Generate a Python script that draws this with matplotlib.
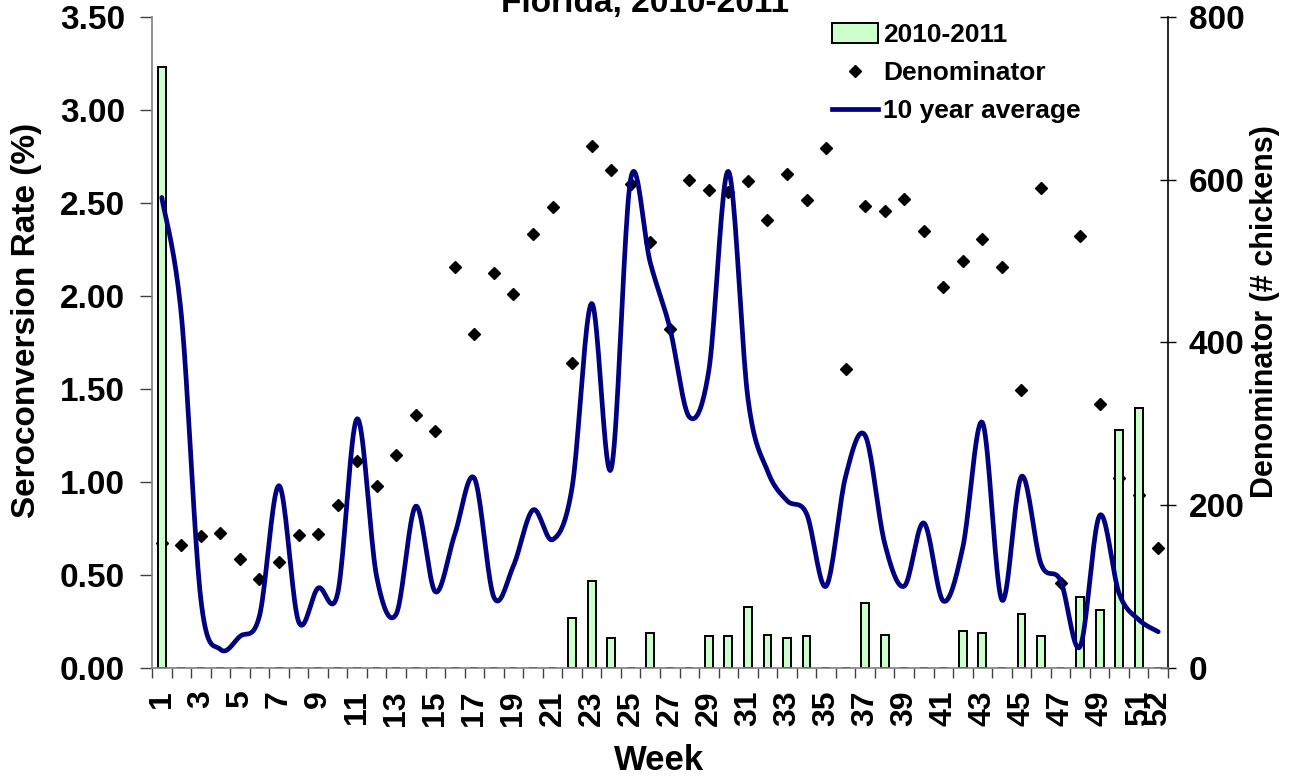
import numpy as np
import matplotlib
matplotlib.use("Agg")
import matplotlib.pyplot as plt
from matplotlib.lines import Line2D
from matplotlib.patches import Patch

weeks = list(range(1, 53))
rate_2010_2011 = [3.23, 0, 0, 0, 0, 0, 0, 0, 0, 0,
                  0, 0, 0, 0, 0, 0, 0, 0, 0, 0,
                  0, 0.27, 0.47, 0.16, 0, 0.19, 0, 0, 0.17, 0.17,
                  0.33, 0.18, 0.16, 0.17, 0, 0, 0.35, 0.18, 0, 0,
                  0, 0.20, 0.19, 0, 0.29, 0.17, 0, 0.38, 0.31, 1.28,
                  1.40, 0]
denominator = [154, 151, 162, 166, 134, 109, 130, 163, 165, 200,
               254, 224, 262, 311, 291, 493, 410, 485, 460, 533,
               566, 375, 641, 612, 595, 523, 417, 600, 587, 585,
               598, 551, 607, 575, 639, 367, 568, 561, 576, 537,
               468, 500, 527, 493, 342, 590, 105, 531, 324, 233,
               213, 148]
avg_10yr = [2.53, 1.90, 0.37, 0.10, 0.17, 0.28, 0.98, 0.25, 0.43, 0.40,
            1.34, 0.49, 0.29, 0.87, 0.41, 0.72, 1.02, 0.38, 0.55, 0.85,
            0.69, 0.97, 1.96, 1.07, 2.63, 2.18, 1.83, 1.35, 1.60, 2.67,
            1.45, 1.06, 0.90, 0.83, 0.44, 1.03, 1.25, 0.67, 0.44, 0.78,
            0.36, 0.65, 1.32, 0.365, 1.03, 0.56, 0.47, 0.115, 0.82, 0.40,
            0.26, 0.195]
xtick_labels = [str(w) for w in range(1, 52, 2)] + ["52"]
xtick_pos = list(range(1, 52, 2)) + [52]


def smooth(xs, ys, n=20):
    """Excel-style smoothed line (Catmull-Rom Bezier) through the points."""
    xs = np.asarray(xs, float)
    ys = np.asarray(ys, float)
    P = np.column_stack([xs, ys])
    Pe = np.vstack([P[0], P, P[-1]])
    out = []
    t = np.linspace(0, 1, n, endpoint=False)
    for i in range(len(P) - 1):
        p0, p1, p2, p3 = Pe[i], Pe[i + 1], Pe[i + 2], Pe[i + 3]
        b1 = p1 + (p2 - p0) / 6.0
        b2 = p2 - (p3 - p1) / 6.0
        tt = t[:, None]
        seg = ((1 - tt) ** 3) * p1 + 3 * ((1 - tt) ** 2) * tt * b1 + 3 * (1 - tt) * tt ** 2 * b2 + tt ** 3 * p2
        out.append(seg)
    out.append(P[-1][None, :])
    out = np.vstack(out)
    return out[:, 0], out[:, 1]


W, H = 1291, 780
fig = plt.figure(figsize=(W / 100, H / 100), dpi=100)
ax = fig.add_axes([152 / W, 1 - 668 / H, (1168 - 152) / W, (668 - 17) / H])
ax2 = ax.twinx()
ax.set_zorder(ax2.get_zorder() + 1)
ax.patch.set_visible(False)

lab_font = "Liberation Sans"
tick_font = dict(family=lab_font, weight="bold", size=24)
xtick_font = dict(family=lab_font, weight="bold", size=23)

# bars
ax.bar(weeks, rate_2010_2011, width=0.4, color="#CCFFCC", edgecolor="black", linewidth=1.4, zorder=2)
# smoothed 10-year average
sx, sy = smooth(weeks, avg_10yr)
ax.plot(sx, sy, color="#000080", linewidth=3.4, solid_capstyle="round", zorder=4)
# denominator diamonds
ax2.plot(weeks, denominator, linestyle="none", marker="D", markersize=6, color="black", zorder=3)

ax.set_xlim(0.5, 52.5)
ax.set_ylim(0, 3.5)
ax2.set_ylim(0, 800)

ax.set_yticks(np.arange(0, 3.51, 0.5))
ax.set_yticklabels([f"{v:.2f}" for v in np.arange(0, 3.51, 0.5)], fontdict=tick_font)
ax2.set_yticks([0, 200, 400, 600, 800])
ax2.set_yticklabels(["0", "200", "400", "600", "800"], fontdict=tick_font)

ax.set_xticks(xtick_pos)
ax.set_xticklabels(xtick_labels, rotation=90, fontdict=xtick_font)
ax.set_xticks(np.arange(0.5, 53, 1), minor=True)
ax.tick_params(axis="x", which="major", length=0, pad=16)
ax.tick_params(axis="x", which="minor", length=7, direction="out", color="#404040", width=1)
ax.tick_params(axis="y", length=8.5, direction="out", color="#404040", width=1, pad=11)
ax2.tick_params(axis="y", length=12, direction="inout", color="black", width=1, pad=9)

for a in (ax, ax2):
    a.spines["top"].set_visible(False)
ax.spines["left"].set_color("#808080")
ax.spines["bottom"].set_color("#808080")
ax.spines["right"].set_visible(False)
ax2.spines["left"].set_visible(False)
ax2.spines["bottom"].set_visible(False)
ax2.spines["right"].set_color("black")
for s in ("left", "bottom"):
    ax.spines[s].set_linewidth(1.2)
ax2.spines["right"].set_linewidth(1.2)

fig.text(645 / W, 1 - 12 / H, "Florida, 2010-2011", ha="center", va="baseline",
         family=lab_font, weight="bold", size=24)
fig.text(659 / W, 1 - 770 / H, "Week", ha="center", va="baseline",
         family=lab_font, weight="bold", size=25)
fig.text(27 / W, 1 - 320 / H, "Seroconversion Rate (%)", ha="center", va="center", rotation=90,
         family=lab_font, weight="bold", size=24)
fig.text(1265 / W, 1 - 312 / H, "Denominator (# chickens)", ha="center", va="center", rotation=90,
         family=lab_font, weight="bold", size=22)

handles = [Patch(facecolor="#CCFFCC", edgecolor="black", linewidth=1.4),
           Line2D([], [], linestyle="none", marker="D", markersize=6, color="black"),
           Line2D([], [], color="#000080", linewidth=3.4)]
labels = ["2010-2011", "Denominator", "10 year average"]
leg = fig.legend(handles, labels, loc="upper left", bbox_to_anchor=(832 / W, 1 - 23 / H),
                 frameon=False, prop=dict(family=lab_font, weight="bold", size=19),
                 handlelength=1.75, handleheight=0.8, handletextpad=0.2, labelspacing=0.52,
                 borderpad=0, borderaxespad=0)

fig.savefig("out.png", dpi=100)
